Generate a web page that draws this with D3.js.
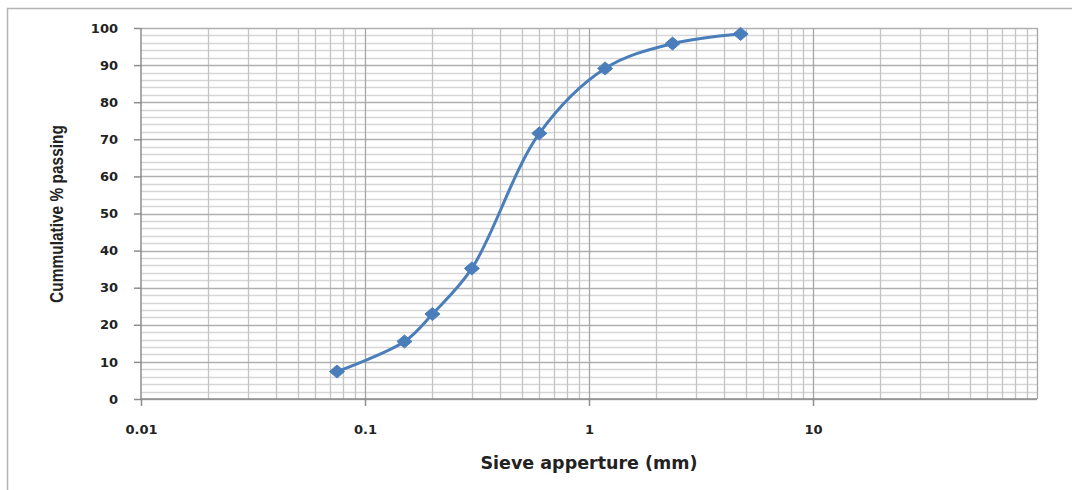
<!DOCTYPE html>
<html>
<head>
<meta charset="utf-8">
<script src="https://cdn.jsdelivr.net/npm/d3@7"></script>
<style>
  body { margin: 0; background: #fff; }
  .tick text { font-family: "DejaVu Sans", Verdana, sans-serif; font-weight: bold; font-size: 13px; fill: #222; }
</style>
</head>
<body>
<script>
// data
var sieveSizes = [0.075, 0.15, 0.2, 0.3, 0.6, 1.18, 2.36, 4.75];
var passing = [7.4, 15.5, 22.9, 35.2, 71.6, 89.1, 95.8, 98.4];
var xTicks = [0.01, 0.1, 1, 10];
var xTickLabels = ["0.01", "0.1", "1", "10"];
var yTicks = [0, 10, 20, 30, 40, 50, 60, 70, 80, 90, 100];

var svgWidth = 1072, svgHeight = 490;
var margin = { top: 28, right: 35, bottom: 91, left: 141 };
var chartWidth = svgWidth - margin.left - margin.right;
var chartHeight = svgHeight - margin.top - margin.bottom;

var svg = d3.select("body").append("svg")
    .attr("width", svgWidth)
    .attr("height", svgHeight);

// outer frame (only top and left edges show in the crop)
svg.append("path")
    .attr("d", "M7.5,490 V8.5 H1072")
    .attr("fill", "none")
    .attr("stroke", "#b4b4b4")
    .attr("stroke-width", 1.5);

var chartGroup = svg.append("g")
    .attr("transform", `translate(${margin.left}, ${margin.top})`);

var x = d3.scaleLog().domain([0.01, 100]).range([0, chartWidth]);
var y = d3.scaleLinear().domain([0, 100]).range([chartHeight, 0]);

// minor horizontal grid every 2 units
var yMinor = d3.range(0, 101, 2).filter(v => v % 10 !== 0);
chartGroup.append("g").selectAll("line")
    .data(yMinor)
    .enter().append("line")
    .attr("x1", 0).attr("x2", chartWidth)
    .attr("y1", d => Math.round(y(d)) + 0.5).attr("y2", d => Math.round(y(d)) + 0.5)
    .attr("stroke", "#d6d6d6").attr("stroke-width", 1.3);

// vertical minor grid (2..9 of each decade)
var xMinor = [];
[0.01, 0.1, 1, 10].forEach(dec => { for (var k = 2; k <= 9; k++) xMinor.push(dec * k); });
chartGroup.append("g").selectAll("line")
    .data(xMinor)
    .enter().append("line")
    .attr("x1", d => Math.round(x(d)) + 0.5).attr("x2", d => Math.round(x(d)) + 0.5)
    .attr("y1", 0).attr("y2", chartHeight)
    .attr("stroke", "#c4c4c4").attr("stroke-width", 1.3);

// major horizontal grid
chartGroup.append("g").selectAll("line")
    .data(yTicks)
    .enter().append("line")
    .attr("x1", 0).attr("x2", chartWidth)
    .attr("y1", d => Math.round(y(d)) + 0.5).attr("y2", d => Math.round(y(d)) + 0.5)
    .attr("stroke", "#b0b0b0").attr("stroke-width", 1.3);

// major vertical grid
chartGroup.append("g").selectAll("line")
    .data([0.1, 1, 10, 100])
    .enter().append("line")
    .attr("x1", d => Math.round(x(d)) + 0.5).attr("x2", d => Math.round(x(d)) + 0.5)
    .attr("y1", 0).attr("y2", chartHeight)
    .attr("stroke", "#a6a6a6").attr("stroke-width", 1.3);

// axes
var bottomAxis = d3.axisBottom(x)
    .tickValues(xTicks)
    .tickFormat((d, i) => xTickLabels[i])
    .tickSize(7)
    .tickPadding(19);
var leftAxis = d3.axisLeft(y)
    .tickValues(yTicks)
    .tickSize(7)
    .tickPadding(16);

var xAxisG = chartGroup.append("g")
    .attr("transform", `translate(0, ${chartHeight})`)
    .call(bottomAxis);
var yAxisG = chartGroup.append("g").call(leftAxis);

[xAxisG, yAxisG].forEach(g => {
  g.select(".domain").attr("stroke", "#8c8c8c").attr("stroke-width", 1.5);
  g.selectAll(".tick line").attr("stroke", "#8c8c8c").attr("stroke-width", 1.5);
});
yAxisG.select(".domain").attr("d", `M0,${chartHeight}V0`);
xAxisG.select(".domain").attr("d", `M0,0H${chartWidth}`);

// curve
var points = sieveSizes.map((s, i) => [s, passing[i]]);
var line = d3.line()
    .x(d => x(d[0]))
    .y(d => y(d[1]))
    .curve(d3.curveCatmullRom.alpha(0.5));

chartGroup.append("path")
    .datum(points)
    .attr("d", line)
    .attr("fill", "none")
    .attr("stroke", "#4a7ebb")
    .attr("stroke-width", 3);

// diamond markers, slightly wider than tall
chartGroup.selectAll(".marker")
    .data(points)
    .enter().append("path")
    .attr("class", "marker")
    .attr("d", "M0,-6.5L7.5,0L0,6.5L-7.5,0Z")
    .attr("transform", d => `translate(${x(d[0])}, ${y(d[1])})`)
    .attr("fill", "#4a7ebb")
    .attr("stroke", "#4a7ebb")
    .attr("stroke-width", 1);

// axis titles
svg.append("text")
    .attr("x", margin.left + x(1))
    .attr("y", 469)
    .attr("text-anchor", "middle")
    .style("font-family", "'DejaVu Sans', Verdana, sans-serif")
    .style("font-weight", "bold")
    .style("font-size", "17.5px")
    .attr("fill", "#222")
    .text("Sieve apperture (mm)");

svg.append("text")
    .attr("transform", `translate(63, 214) rotate(-90) scale(0.86, 1)`)
    .attr("text-anchor", "middle")
    .style("font-family", "'Liberation Sans', Arial, sans-serif")
    .style("font-weight", "bold")
    .style("font-size", "18px")
    .attr("fill", "#222")
    .text("Cummulative % passing");
</script>
</body>
</html>
